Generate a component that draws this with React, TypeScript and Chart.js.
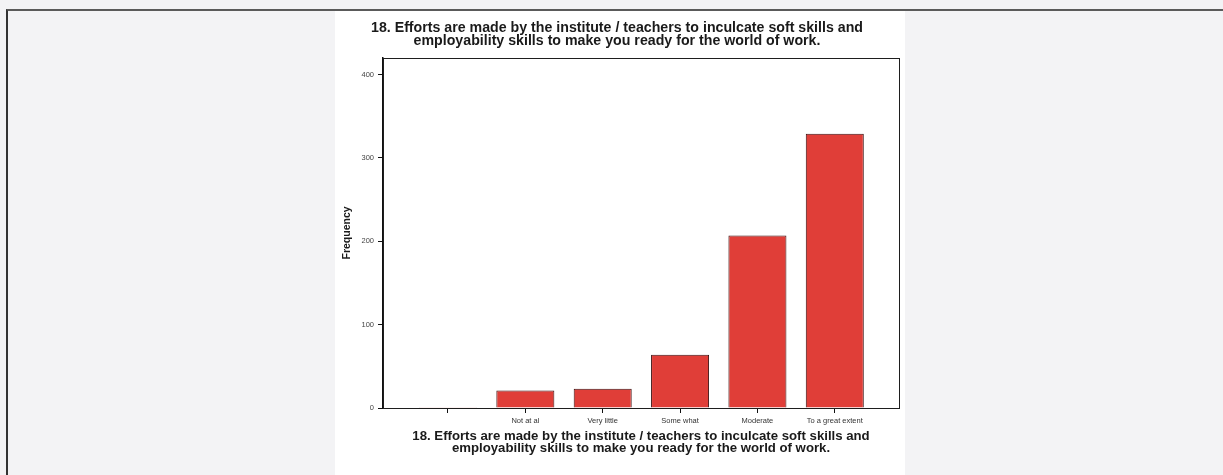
import React, { useEffect, useRef } from 'react';
import { Chart, registerables } from 'chart.js';

Chart.register(...registerables);

const categories = ['', 'Not at al', 'Very little', 'Some what', 'Moderate', 'To a great extent'];
const frequencies = [1, 21, 23, 64, 207, 329];
const yTickValues = [0, 100, 200, 300, 400];
const titleLines = [
  '18. Efforts are made by the institute / teachers to inculcate soft skills and',
  'employability skills to make you ready for the world of work.',
];
const xTitleLines = [
  '18. Efforts are made by the institute / teachers to inculcate soft skills and',
  'employability skills to make you ready for the world of work.',
];
const yTitle = 'Frequency';

const FONT = "'Liberation Sans', Arial, sans-serif";

const framePlugin = {
  id: 'frameBox',
  afterDraw(chart: any) {
    const { ctx, chartArea } = chart;
    ctx.save();
    ctx.strokeStyle = '#1e1e1e';
    ctx.lineWidth = 1;
    ctx.strokeRect(
      Math.round(chartArea.left) + 0.5,
      Math.round(chartArea.top) + 0.5,
      Math.round(chartArea.right - chartArea.left),
      Math.round(chartArea.bottom - chartArea.top)
    );
    ctx.restore();
  },
};

export default function App() {
  const ref = useRef<HTMLCanvasElement>(null);

  useEffect(() => {
    document.body.style.margin = '0';
    const chart = new Chart(ref.current as HTMLCanvasElement, {
      type: 'bar',
      data: {
        datasets: [
          {
            data: frequencies.map((f, i) => ({ x: i, y: f })),
            backgroundColor: '#e03e38',
            borderColor: '#3b1010',
            borderWidth: 1,
            barPercentage: 0.75,
            categoryPercentage: 1,
          },
        ],
      },
      options: {
        animation: false,
        responsive: false,
        layout: { padding: { left: 0, right: 6, top: 0, bottom: 0 } },
        plugins: {
          legend: { display: false },
          tooltip: { enabled: false },
          title: {
            display: true,
            text: titleLines,
            color: '#1a1a1a',
            font: { family: FONT, size: 14.2, weight: 'bold', lineHeight: 0.96 },
            padding: { top: 10, bottom: 9.7 },
          },
        },
        scales: {
          x: {
            type: 'linear',
            min: -0.84,
            max: 5.83,
            offset: false,
            afterBuildTicks: (s: any) => {
              s.ticks = categories.map((_, i) => ({ value: i }));
            },
            afterFit: (s: any) => {
              s.height = 67;
            },
            grid: {
              display: true,
              offset: false,
              drawOnChartArea: false,
              drawTicks: true,
              tickLength: 5,
              color: '#111',
              lineWidth: 1,
            },
            border: { display: true, color: '#111', width: 1 },
            ticks: {
              autoSkip: false,
              maxRotation: 0,
              padding: 3,
              color: '#333',
              font: { family: FONT, size: 7.5 },
              callback: (v: any) => categories[v] ?? '',
            },
            title: {
              display: true,
              text: xTitleLines,
              color: '#1a1a1a',
              font: { family: FONT, size: 13.2, weight: 'bold', lineHeight: 0.93 },
              padding: { top: 0, bottom: 20 },
            },
          },
          y: {
            min: 0,
            max: 420,
            afterBuildTicks: (s: any) => {
              s.ticks = yTickValues.map((v) => ({ value: v }));
            },
            afterFit: (s: any) => {
              s.width = 48;
            },
            grid: {
              display: true,
              drawOnChartArea: false,
              drawTicks: true,
              tickLength: 5,
              color: '#111',
              lineWidth: 1,
            },
            border: { display: true, color: '#111', width: 1.5 },
            ticks: {
              padding: 4,
              color: '#444',
              font: { family: FONT, size: 7.5 },
            },
            title: {
              display: true,
              text: yTitle,
              color: '#1a1a1a',
              font: { family: FONT, size: 10.5, weight: 'bold', lineHeight: 1.2 },
              padding: { top: 6, bottom: 0 },
            },
          },
        },
      },
      plugins: [framePlugin],
    } as any);
    return () => chart.destroy();
  }, []);

  return (
    <div
      style={{
        position: 'relative',
        width: 1223,
        height: 475,
        background: '#f3f3f5',
        overflow: 'hidden',
      }}
    >
      <div
        style={{
          position: 'absolute',
          left: 6,
          top: 9,
          right: 0,
          bottom: 0,
          borderTop: '2px solid #5a5a5a',
          borderLeft: '2px solid #333',
        }}
      />
      <div
        style={{
          position: 'absolute',
          left: 335,
          top: 11,
          width: 570,
          height: 464,
          background: '#ffffff',
        }}
      >
        <canvas ref={ref} width={570} height={464} style={{ display: 'block', width: 570, height: 464 }} />
      </div>
    </div>
  );
}
